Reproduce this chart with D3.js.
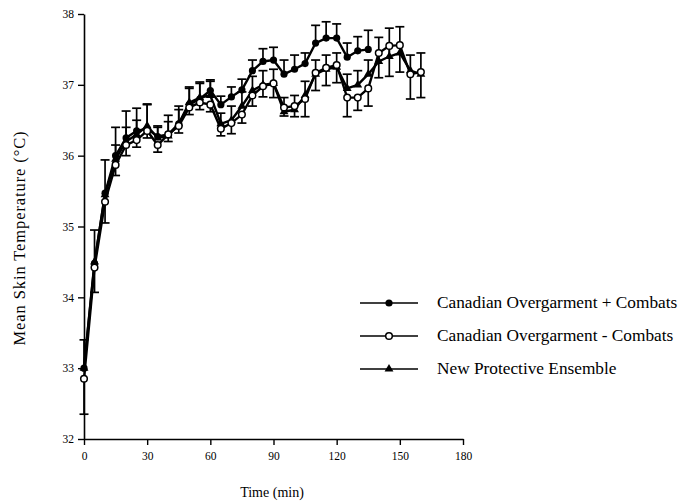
<!DOCTYPE html>
<html>
<head>
<meta charset="utf-8">
<script src="https://cdn.jsdelivr.net/npm/d3@7"></script>
<style>
  body { margin: 0; background: #fff; }
  text { font-family: "Liberation Serif", "DejaVu Serif", serif; fill: #000; }
</style>
</head>
<body>
<div id="chart"></div>
<script>
// time points (min)
var times = [0, 5, 10, 15, 20, 25, 30, 35, 40, 45, 50, 55, 60, 65, 70, 75, 80,
  85, 90, 95, 100, 105, 110, 115, 120, 125, 130, 135, 140, 145, 150, 155, 160];

// Canadian Overgarment + Combats (filled circles), 0-135 min
var withCombats = [33.0, 34.48, 35.47, 36.0, 36.25, 36.35, 36.38, 36.27, 36.3, 36.45,
  36.72, 36.8, 36.92, 36.72, 36.83, 36.93, 37.2, 37.33, 37.35, 37.15, 37.22, 37.3,
  37.59, 37.66, 37.66, 37.39, 37.48, 37.5];
var withCombatsErr = [0.4, 0.47, 0.47, 0.4, 0.38, 0.32, 0.35, 0.15, 0.27, 0.25,
  0.25, 0.24, 0.15, 0.12, 0.14, 0.15, 0.15, 0.18, 0.18, 0.2, 0.2, 0.15,
  0.25, 0.23, 0.2, 0.2, 0.2, 0.27];

// Canadian Overgarment - Combats (open circles)
var noCombats = [32.85, 34.42, 35.35, 35.87, 36.15, 36.22, 36.35, 36.15, 36.3, 36.42,
  36.68, 36.75, 36.72, 36.38, 36.46, 36.58, 36.85, 36.98, 37.02, 36.68, 36.7, 36.8,
  37.17, 37.24, 37.28, 36.82, 36.82, 36.95, 37.45, 37.55, 37.56, 37.15, 37.18];
var noCombatsErr = [0.5, 0.35, 0.3, 0.15, 0.15, 0.1, 0.1, 0.1, 0.1, 0.1,
  0.1, 0.1, 0.1, 0.1, 0.15, 0.12, 0.15, 0.15, 0.2, 0.12, 0.15, 0.25,
  0.25, 0.25, 0.25, 0.27, 0.18, 0.25, 0.35, 0.43, 0.38, 0.35, 0.36];

// New Protective Ensemble (triangles)
var newEnsemble = [33.0, 34.5, 35.45, 35.95, 36.2, 36.3, 36.42, 36.25, 36.28, 36.45,
  36.75, 36.82, 36.85, 36.45, 36.5, 36.7, 36.92, 37.0, 37.02, 36.62, 36.65, 36.85,
  37.15, 37.22, 37.25, 36.95, 37.0, 37.15, 37.33, 37.4, 37.45, 37.2, 37.15];
var newEnsembleErr = [0, 0, 0, 0.2, 0.2, 0.2, 0.3, 0.15, 0.2, 0.2,
  0.2, 0.2, 0.2, 0.15, 0.2, 0.2, 0.2, 0.2, 0.2, 0.2, 0.2, 0.2,
  0.2, 0.2, 0.2, 0.2, 0.2, 0.2, 0.34, 0.4, 0.37, 0.22, 0.3];

var xTicks = [0, 30, 60, 90, 120, 150, 180];
var yTicks = [32, 33, 34, 35, 36, 37, 38];
var legendLabels = ["Canadian Overgarment + Combats", "Canadian Overgarment - Combats", "New Protective Ensemble"];

var WIDTH = 685, HEIGHT = 504;
var svg = d3.select('#chart').append('svg')
    .attr('width', WIDTH)
    .attr('height', HEIGHT);

var x = d3.scaleLinear().domain([0, 180]).range([84, 463]);
var y = d3.scaleLinear().domain([32, 38]).range([439, 14]);

// axes
svg.append('g')
    .attr('transform', 'translate(0,' + y(32) + ')')
    .call(d3.axisBottom(x).tickValues(xTicks).tickFormat(d3.format('d'))
        .tickSize(6).tickSizeOuter(0).tickPadding(7))
    .call(function(g) {
        g.select('.domain').attr('stroke-width', 1.6);
        g.selectAll('.tick line').attr('stroke-width', 1.4);
        g.selectAll('text').style('font-size', '11.5px').style('font-family', '"Liberation Serif", serif');
    });

svg.append('g')
    .attr('transform', 'translate(' + x(0) + ',0)')
    .call(d3.axisLeft(y).tickValues(yTicks).tickFormat(d3.format('d'))
        .tickSize(6).tickSizeOuter(0).tickPadding(4))
    .call(function(g) {
        g.select('.domain').attr('stroke-width', 1.6);
        g.selectAll('.tick line').attr('stroke-width', 1.4);
        g.selectAll('text').style('font-size', '11.5px').style('font-family', '"Liberation Serif", serif');
    });

svg.append('text')
    .attr('x', 272).attr('y', 497)
    .attr('text-anchor', 'middle')
    .style('font-size', '14px')
    .text('Time (min)');

svg.append('text')
    .attr('transform', 'translate(25,' + 238 + ') rotate(-90)')
    .attr('text-anchor', 'middle')
    .style('font-size', '16.5px')
    .style('letter-spacing', '0.9px')
    .text('Mean Skin Temperature (°C)');

var series = [
    { values: withCombats, err: withCombatsErr, dir: -1, marker: 'filled' },
    { values: noCombats, err: noCombatsErr, dir: 1, marker: 'open' },
    { values: newEnsemble, err: newEnsembleErr, dir: -1, marker: 'triangle' }
];

series.forEach(function(s) {
    s.points = s.values.map(function(v, i) { return { t: times[i], v: v, e: s.err[i] }; });
});

var line = d3.line()
    .x(function(d) { return x(d.t); })
    .y(function(d) { return y(d.v); });

var plot = svg.append('g');

// lines
series.forEach(function(s) {
    plot.append('path')
        .datum(s.points)
        .attr('fill', 'none')
        .attr('stroke', '#000')
        .attr('stroke-width', 2.4)
        .attr('d', line);
});

// error bars, one direction per series (up = -1 in screen)
series.forEach(function(s) {
    var bars = plot.append('g').selectAll('g')
        .data(s.points.filter(function(d) { return d.e > 0; }))
        .enter().append('g');
    bars.append('line')
        .attr('x1', function(d) { return x(d.t); })
        .attr('x2', function(d) { return x(d.t); })
        .attr('y1', function(d) { return y(d.v); })
        .attr('y2', function(d) { return s.dir < 0 ? y(d.v + d.e) : y(d.v - d.e); })
        .attr('stroke', '#000').attr('stroke-width', 1.7);
    bars.append('line')
        .attr('x1', function(d) { return x(d.t) - 4.5; })
        .attr('x2', function(d) { return x(d.t) + 4.5; })
        .attr('y1', function(d) { return s.dir < 0 ? y(d.v + d.e) : y(d.v - d.e); })
        .attr('y2', function(d) { return s.dir < 0 ? y(d.v + d.e) : y(d.v - d.e); })
        .attr('stroke', '#000').attr('stroke-width', 1.7);
});

function drawMarker(g, type, cx, cy) {
    if (type === 'filled') {
        g.append('circle').attr('cx', cx).attr('cy', cy).attr('r', 3.6).attr('fill', '#000');
    } else if (type === 'open') {
        g.append('circle').attr('cx', cx).attr('cy', cy).attr('r', 3.3)
            .attr('fill', '#fff').attr('stroke', '#000').attr('stroke-width', 1.5);
    } else {
        g.append('path')
            .attr('d', d3.symbol().type(d3.symbolTriangle).size(34)())
            .attr('transform', 'translate(' + cx + ',' + cy + ')')
            .attr('fill', '#000');
    }
}

// markers
[series[2], series[0], series[1]].forEach(function(s) {
    s.points.forEach(function(d) {
        drawMarker(plot, s.marker, x(d.t), y(d.v));
    });
});

// legend
var legendY = [303, 336, 369];
series.forEach(function(s, i) {
    var g = svg.append('g');
    g.append('line')
        .attr('x1', 360).attr('x2', 418)
        .attr('y1', legendY[i]).attr('y2', legendY[i])
        .attr('stroke', '#000').attr('stroke-width', 1.3);
    drawMarker(g, s.marker, 389, legendY[i]);
    g.append('text')
        .attr('x', 437).attr('y', legendY[i] + 5)
        .style('font-size', '17.3px')
        .text(legendLabels[i]);
});
</script>
</body>
</html>
